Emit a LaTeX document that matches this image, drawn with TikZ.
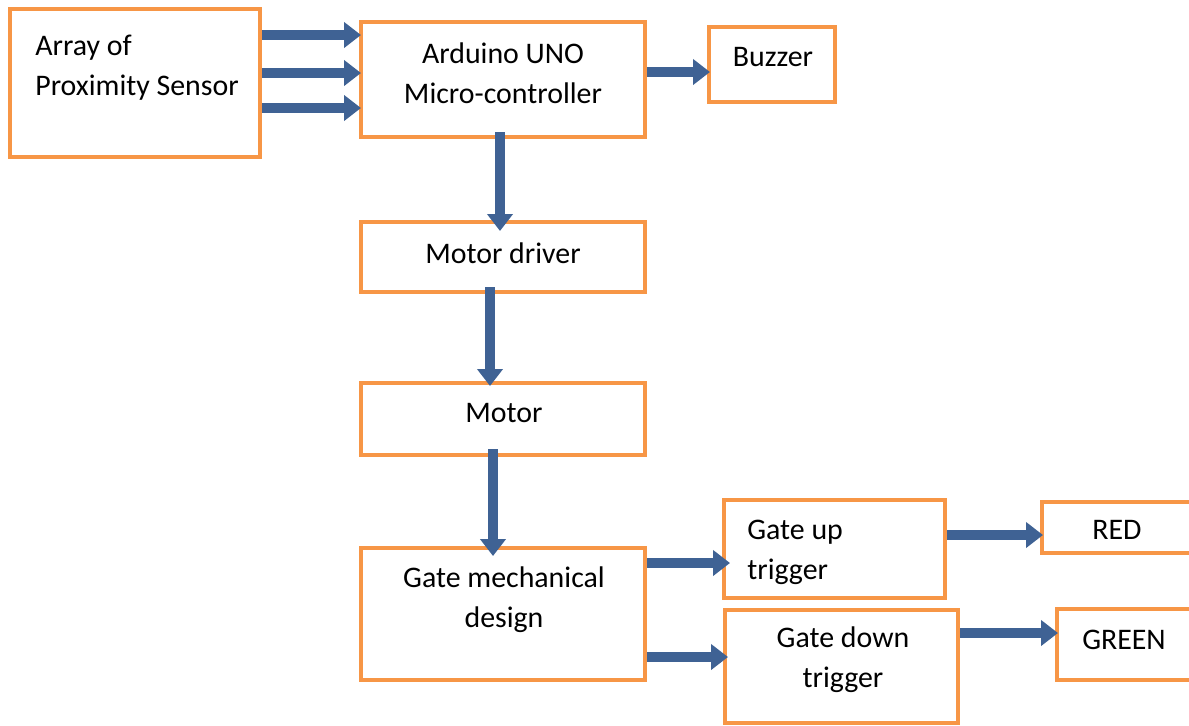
\documentclass[tikz,border=0pt]{standalone}
\usepackage{fontspec}
\setmainfont{Carlito}
\usepackage{tikz}
\usetikzlibrary{arrows.meta}

\definecolor{boxorange}{RGB}{247,150,70}
\definecolor{flowblue}{RGB}{63,98,148}

\tikzset{
  blk/.style={draw=boxorange, line width=2.3pt, inner sep=0pt, fill=white},
  txt/.style={font=\fontsize{17}{22.7}\selectfont, inner sep=0pt},
  flow/.style={draw=flowblue, line width=.2cm, -{Triangle[length=.34cm,width=.5cm]}}
}

\begin{document}
\begin{tikzpicture}[x=.02cm,y=-.02cm]
\useasboundingbox (0,0) rectangle (1189,725);
% blocks
\node[blk, minimum width=5cm, minimum height=2.96cm] (sensor) at (135,83) {};
\node[blk, minimum width=5.68cm, minimum height=2.3cm] (arduino) at (503,79.5) {};
\node[blk, minimum width=2.52cm, minimum height=1.5cm] (buzzer) at (772,64.5) {};
\node[blk, minimum width=5.68cm, minimum height=1.4cm] (driver) at (503,257) {};
\node[blk, minimum width=5.68cm, minimum height=1.44cm] (motor) at (503,419) {};
\node[blk, minimum width=5.68cm, minimum height=2.64cm] (gatemech) at (503,614) {};
\node[blk, minimum width=4.42cm, minimum height=1.96cm] (gateup) at (834.5,549) {};
\node[blk, minimum width=4.66cm, minimum height=2.26cm] (gatedown) at (841.5,666.5) {};
\node[blk, minimum width=3.16cm, minimum height=1.02cm] (red) at (1121,527.5) {};
\node[blk, minimum width=2.86cm, minimum height=1.42cm] (green) at (1128.5,644.5) {};

% labels
\node[txt, align=left, anchor=west] (sensor-t) at (35,68) {Array of\\Proximity Sensor};
\node[txt, align=center] (arduino-t) at (503,73) {Arduino UNO\\Micro-controller};
\node[txt] (buzzer-t) at (773,57) {Buzzer};
\node[txt] (driver-t) at (503,253) {Motor driver};
\node[txt] (motor-t) at (504,413) {Motor};
\node[txt, align=center] (gatemech-t) at (504,600) {Gate mechanical\\design};
\node[txt, align=left, anchor=west] (gateup-t) at (747,552) {Gate up\\trigger};
\node[txt, align=center] (gatedown-t) at (843,660) {Gate down\\trigger};
\node[txt] (red-t) at (1117,530) {RED};
\node[txt] (green-t) at (1124,640) {GREEN};

% arrows
\foreach \yy in {35,73,108}
  \draw[flow, shorten >=-.04cm] (sensor.east |- 0,\yy) -- (arduino.west |- 0,\yy);
\draw[flow, shorten >=-.06cm] (arduino.east |- 0,72) -- (buzzer.west |- 0,72);
\draw[flow, shorten <=-.14cm, shorten >=-.22cm] (arduino.south -| 500,0) -- (driver.north -| 500,0);
\draw[flow, shorten <=-.14cm, shorten >=-.1cm] (driver.south -| 490,0) -- (motor.north -| 490,0);
\draw[flow, shorten <=-.16cm, shorten >=-.2cm] (motor.south -| 493,0) -- (gatemech.north -| 493,0);
\draw[flow, shorten >=-.16cm] (gatemech.east |- 0,563) -- (gateup.west |- 0,563);
\draw[flow, shorten >=-.1cm] (gatemech.east |- 0,657) -- (gatedown.west |- 0,657);
\draw[flow, shorten >=-.06cm] (gateup.east |- 0,535) -- (red.west |- 0,535);
\draw[flow, shorten >=-.06cm] (gatedown.east |- 0,633) -- (green.west |- 0,633);
\end{tikzpicture}
\end{document}
